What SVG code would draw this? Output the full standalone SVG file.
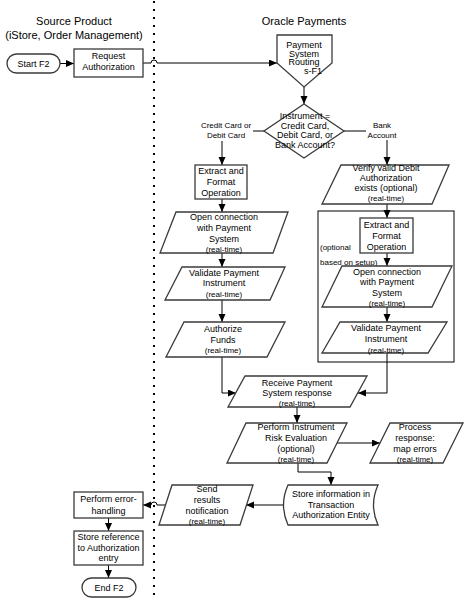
<svg xmlns="http://www.w3.org/2000/svg" width="469" height="600" viewBox="0 0 469 600">
<style>
text{font-family:"Liberation Sans",Arial,sans-serif;fill:#000;text-anchor:middle}
.t{font-size:11px}
.n{font-size:9px}
.s{font-size:8px}
.shape{fill:#fff;stroke:#3a3a3a;stroke-width:1.3}
.c{fill:none;stroke:#000;stroke-width:1}
.ca{fill:none;stroke:#000;stroke-width:1;marker-end:url(#ah)}
</style>
<defs>
<marker id="ah" markerUnits="userSpaceOnUse" markerWidth="9" markerHeight="8" refX="8" refY="3.5" orient="auto">
<path d="M0,0 L8,3.5 L0,7 z" fill="#000"/>
</marker>
</defs>
<rect width="469" height="600" fill="#fff"/>
<g id="swimlane-divider">
<path d="M154,1 V600" stroke="#000" stroke-width="2" stroke-dasharray="2 6" fill="none"/>
</g>
<g id="titles">
<text class="t" x="74" y="25">Source Product</text>
<text class="t" x="74" y="39">(iStore, Order Management)</text>
<text class="t" x="304" y="25">Oracle Payments</text>
</g>
<g id="connectors">
<path class="ca" d="M60,63.5 H74"/>
<path class="ca" d="M143,63 H151 A3,3 0 0 1 157,63 H277"/>
<path class="ca" d="M304,87 V104"/>
<path class="ca" d="M264,131 H222 V165"/>
<path class="ca" d="M344,131 H387 V165"/>
<path class="ca" d="M222,199 V212"/>
<path class="ca" d="M222,253 V267"/>
<path class="ca" d="M222,300 V322"/>
<path class="ca" d="M222,357 V393 H236"/>
<path class="ca" d="M387,204 V218"/>
<path class="ca" d="M387,253 V266"/>
<path class="ca" d="M387,307 V322"/>
<path class="ca" d="M387,353 V393 H358"/>
<path class="ca" d="M297,407 V423"/>
<path class="ca" d="M337,443 H380"/>
<path class="ca" d="M298,463 V472 H331 V485"/>
<path class="ca" d="M284,505 H246"/>
<path class="ca" d="M165,505 H157 A3,3 0 0 0 151,505 H143"/>
<path class="ca" d="M108.5,518 V531"/>
<path class="ca" d="M108.5,565 V578"/>
<rect x="199" y="119" width="54" height="22" fill="#fff"/>
<text class="s" x="226" y="127.9">Credit Card or</text>
<text class="s" x="226" y="137.9">Debit Card</text>
<rect x="366" y="119" width="32" height="21" fill="#fff"/>
<text class="s" x="382" y="127.9">Bank</text>
<text class="s" x="382" y="137.9">Account</text>
</g>
<g id="start">
<rect class="shape" x="7" y="54" width="53" height="19" rx="9.5"/>
<text class="n" x="33.5" y="66.7">Start F2</text>
</g>
<g id="request-authorization">
<rect class="shape" x="74" y="49" width="69" height="28"/>
<text class="n" x="108.5" y="59">Request</text>
<text class="n" x="108.5" y="70">Authorization</text>
</g>
<g id="payment-system-routing">
<path class="shape" d="M277,35 H332 V63 L304,87 L277,63 Z"/>
<text class="n" x="304" y="48.2">Payment</text>
<text class="n" x="304" y="56.7">System</text>
<text class="n" x="304" y="65.2">Routing</text>
<text class="n" x="313" y="74">s-F1</text>
</g>
<g id="instrument-decision">
<path class="shape" d="M304,104 L344,131 L304,158 L264,131 Z"/>
<text class="n" x="305" y="119.2">Instrument =</text>
<text class="n" x="305" y="128.7">Credit Card,</text>
<text class="n" x="305" y="138.2">Debit Card, or</text>
<text class="n" x="305" y="147.7">Bank Account?</text>
</g>
<g id="extract-format-card">
<rect class="shape" x="195" y="165" width="52" height="34"/>
<text class="n" x="221" y="174.2">Extract and</text>
<text class="n" x="221" y="185.2">Format</text>
<text class="n" x="221" y="196.2">Operation</text>
</g>
<g id="open-connection-card">
<path class="shape" d="M176,212 H288 L273,253 H160 Z"/>
<text class="n" x="224" y="220.2">Open connection</text>
<text class="n" x="224" y="231.2">with Payment</text>
<text class="n" x="224" y="242.2">System</text>
<text class="s" x="224" y="251.9">(real-time)</text>
</g>
<g id="validate-instrument-card">
<path class="shape" d="M182,267 H285 L270,300 H165 Z"/>
<text class="n" x="224" y="276.2">Validate Payment</text>
<text class="n" x="224" y="286.2">Instrument</text>
<text class="s" x="224" y="296.9">(real-time)</text>
</g>
<g id="authorize-funds">
<path class="shape" d="M184,322 H285 L267,357 H166 Z"/>
<text class="n" x="223" y="332.2">Authorize</text>
<text class="n" x="223" y="343.2">Funds</text>
<text class="s" x="223" y="352.9">(real-time)</text>
</g>
<g id="verify-debit-authorization">
<path class="shape" d="M341,165 H449 L432,204 H322 Z"/>
<text class="n" x="386" y="171.2">Verify valid Debit</text>
<text class="n" x="386" y="181.2">Authorization</text>
<text class="n" x="386" y="191.2">exists (optional)</text>
<text class="s" x="386" y="200.9">(real-time)</text>
</g>
<g id="optional-group">
<rect x="318" y="211" width="136" height="151" fill="none" stroke="#000" stroke-width="1"/>
<text class="s" x="320" y="249.9" style="text-anchor:start">(optional</text>
<text class="s" x="320" y="264.9" style="text-anchor:start">based on setup)</text>
</g>
<g id="extract-format-bank">
<rect class="shape" x="360" y="218" width="53" height="35"/>
<text class="n" x="386.5" y="228.2">Extract and</text>
<text class="n" x="386.5" y="239.2">Format</text>
<text class="n" x="386.5" y="250.2">Operation</text>
</g>
<g id="open-connection-bank">
<path class="shape" d="M342,266 H452 L432,307 H322 Z"/>
<text class="n" x="387" y="275.2">Open connection</text>
<text class="n" x="387" y="285.2">with Payment</text>
<text class="n" x="387" y="296.2">System</text>
<text class="s" x="387" y="305.9">(real-time)</text>
</g>
<g id="validate-instrument-bank">
<path class="shape" d="M340,322 H447 L428,353 H322 Z"/>
<text class="n" x="386" y="331.2">Validate Payment</text>
<text class="n" x="386" y="342.2">Instrument</text>
<text class="s" x="386" y="352.9">(real-time)</text>
</g>
<g id="receive-response">
<path class="shape" d="M245,376 H367 L350,407 H228 Z"/>
<text class="n" x="297" y="386.2">Receive Payment</text>
<text class="n" x="297" y="396.2">System response</text>
<text class="s" x="297" y="405.9">(real-time)</text>
</g>
<g id="risk-evaluation">
<path class="shape" d="M246,423 H347 L327,463 H227 Z"/>
<text class="n" x="296" y="430.2">Perform Instrument</text>
<text class="n" x="296" y="441.2">Risk Evaluation</text>
<text class="n" x="296" y="452.2">(optional)</text>
<text class="s" x="296" y="461.9">(real-time)</text>
</g>
<g id="process-response">
<path class="shape" d="M390,423 H463 L443,463 H370 Z"/>
<text class="n" x="415" y="430.2">Process</text>
<text class="n" x="415" y="441.2">response:</text>
<text class="n" x="415" y="452.2">map errors</text>
<text class="s" x="415" y="461.9">(real-time)</text>
</g>
<g id="store-information">
<path class="shape" d="M288,485 H378 Q369,505 378,525 H288 Q279,505 288,485 Z"/>
<text class="n" x="331" y="497.2">Store information in</text>
<text class="n" x="331" y="508.2">Transaction</text>
<text class="n" x="331" y="518.2">Authorization Entity</text>
</g>
<g id="send-notification">
<path class="shape" d="M172,485 H253 L240,525 H159 Z"/>
<text class="n" x="207" y="492.2">Send</text>
<text class="n" x="207" y="503.2">results</text>
<text class="n" x="207" y="514.2">notification</text>
<text class="s" x="207" y="523.9">(real-time)</text>
</g>
<g id="error-handling">
<rect class="shape" x="74" y="492" width="69" height="26"/>
<text class="n" x="108.5" y="502.2">Perform error-</text>
<text class="n" x="108.5" y="514.2">handling</text>
</g>
<g id="store-reference">
<rect class="shape" x="74" y="531" width="69" height="34"/>
<text class="n" x="108.5" y="540.2">Store reference</text>
<text class="n" x="108.5" y="550.7">to Authorization</text>
<text class="n" x="108.5" y="561.2">entry</text>
</g>
<g id="end">
<rect class="shape" x="82" y="578" width="54" height="19" rx="9.5"/>
<text class="n" x="109" y="590.7">End F2</text>
</g>
</svg>
